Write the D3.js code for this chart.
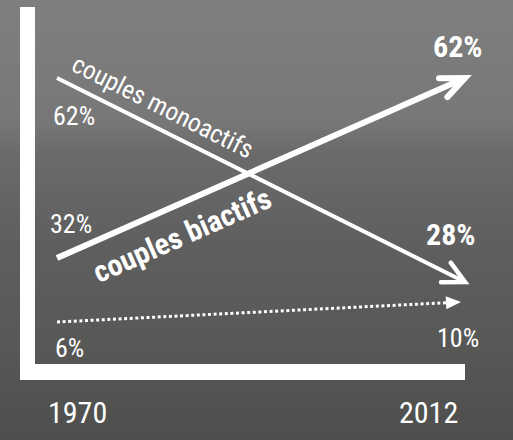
<!DOCTYPE html>
<html>
<head>
<meta charset="utf-8">
<script src="https://cdn.jsdelivr.net/npm/d3@7/dist/d3.min.js"></script>
<style>
  html, body { margin: 0; padding: 0; background: #5e5e5e; }
  svg { display: block; }
  text { fill: #fff; font-family: "Liberation Sans Narrow", "Roboto Condensed", "DejaVu Sans Condensed", sans-serif; }
</style>
</head>
<body>
<svg id="chart" width="513" height="440"></svg>
<script>
// ---- data ----
const years = [1970, 2012];
const monoactifs = [62, 28];
const biactifs = [32, 62];
const autres = [6, 10];
const seriesNames = ["couples monoactifs", "couples biactifs"];
const yearLabels = ["1970", "2012"];

// ---- layout ----
const W = 513, H = 440;
const svg = d3.select("#chart");

// background
const defs = svg.append("defs");
const grad = defs.append("linearGradient").attr("id", "bg").attr("x1", 0).attr("y1", 0).attr("x2", 0).attr("y2", 1);
[[0, "#7f7f7f"], [0.28, "#777777"], [0.34, "#6b6b6b"], [0.55, "#5f5f5f"], [0.8, "#575756"], [1, "#4e4f4c"]]
  .forEach(([o, c]) => grad.append("stop").attr("offset", o).attr("stop-color", c));
svg.append("rect").attr("width", W).attr("height", H).attr("fill", "url(#bg)");

const x = d3.scaleLinear().domain(years).range([57, 465]);
// schematic (non-linear) vertical scale as in the original drawing
const y = d3.scaleLinear().domain([6, 10, 28, 32, 62]).range([322, 302, 282, 258, 78]);

// axis frame
svg.append("rect").attr("x", 20).attr("y", 7).attr("width", 15).attr("height", 373).attr("fill", "#fff");
svg.append("rect").attr("x", 20).attr("y", 364).attr("width", 445).attr("height", 16).attr("fill", "#fff");

const line = d3.line();
function pts(vals) { return years.map((yr, i) => [x(yr), y(vals[i])]); }
function openArrow(p0, p1, len, half) {
  const a = Math.atan2(p1[1] - p0[1], p1[0] - p0[0]) + Math.PI;
  return [
    [p1[0] + len * Math.cos(a - half), p1[1] + len * Math.sin(a - half)],
    p1,
    [p1[0] + len * Math.cos(a + half), p1[1] + len * Math.sin(a + half)]
  ];
}

// monoactifs
const pm = pts(monoactifs);
svg.append("path").attr("d", line(pm)).attr("stroke", "#fff").attr("stroke-width", 4).attr("fill", "none");
svg.append("path").attr("d", line(openArrow(pm[0], pm[1], 24, 0.47)))
  .attr("stroke", "#fff").attr("stroke-width", 4.5).attr("fill", "none").attr("stroke-linejoin", "miter").attr("stroke-linecap", "round");

// biactifs
const pb = pts(biactifs);
svg.append("path").attr("d", line(pb)).attr("stroke", "#fff").attr("stroke-width", 6).attr("fill", "none");
svg.append("path").attr("d", line(openArrow(pb[0], pb[1], 26, 0.41)))
  .attr("stroke", "#fff").attr("stroke-width", 6).attr("fill", "none").attr("stroke-linejoin", "miter").attr("stroke-linecap", "round");

// autres (dotted)
const pa = pts(autres);
const tip = [pa[1][0] - 4, pa[1][1]];
const ang = Math.atan2(tip[1] - pa[0][1], tip[0] - pa[0][0]);
const triL = 15, triH = 13;
const base = [tip[0] - triL * Math.cos(ang), tip[1] - triL * Math.sin(ang)];
svg.append("path").attr("d", line([pa[0], base])).attr("stroke", "#fff").attr("stroke-width", 3)
  .attr("stroke-dasharray", "3 2.6").attr("fill", "none");
svg.append("path").attr("d", line([
  tip,
  [base[0] - triH / 2 * Math.sin(ang), base[1] + triH / 2 * Math.cos(ang)],
  [base[0] + triH / 2 * Math.sin(ang), base[1] - triH / 2 * Math.cos(ang)]
]) + "Z").attr("fill", "#fff");

// series labels along the lines
function lineLabel(p, text, along, perp, size, weight) {
  const a = Math.atan2(p[1][1] - p[0][1], p[1][0] - p[0][0]) * 180 / Math.PI;
  svg.append("g").attr("transform", `translate(${p[0][0]},${p[0][1]}) rotate(${a})`)
    .append("text").attr("x", along).attr("y", perp)
    .attr("font-size", size).attr("font-weight", weight).text(text);
}
lineLabel(pm, seriesNames[0], 8, -13, 25.5, "normal");
lineLabel(pb, seriesNames[1], 28, 40, 30, "bold");

// value labels
function valLabel(p, v, dx, dy, size, weight) {
  svg.append("text").attr("x", p[0] + dx).attr("y", p[1] + dy)
    .attr("font-size", size).attr("font-weight", weight).text(v + "%");
}
valLabel(pm[0], monoactifs[0], -4, 47, 26, "normal");
valLabel(pb[0], biactifs[0], -7, -25, 26, "normal");
valLabel(pa[0], autres[0], -2, 35, 26, "normal");
valLabel(pb[1], biactifs[1], -32, -21, 30, "bold");
valLabel(pm[1], monoactifs[1], -39, -37, 30, "bold");
valLabel(pa[1], autres[1], -28, 45, 26, "normal");

// year labels
svg.append("text").attr("x", x(years[0]) - 9).attr("y", 423).attr("font-size", 30).text(yearLabels[0]);
svg.append("text").attr("x", x(years[1]) - 66).attr("y", 423).attr("font-size", 30).text(yearLabels[1]);
</script>
</body>
</html>
